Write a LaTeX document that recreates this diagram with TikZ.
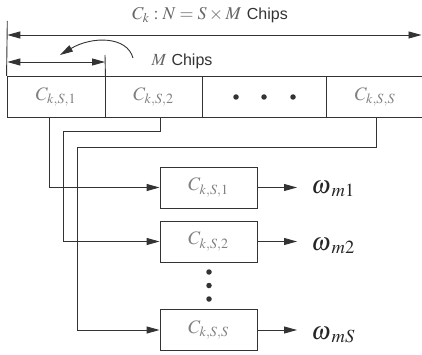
\documentclass[tikz,border=0pt]{standalone}
\usepackage{mathptmx}
\usepackage{fontspec}
\setsansfont{Liberation Sans}
\usetikzlibrary{arrows.meta}
\begin{document}
\begin{tikzpicture}[x=1pt,y=-1pt,
  line width=0.9pt,
  ln/.style={draw=black!80},
  arr/.style={ln,-{Triangle[length=13pt,width=7pt]}},
  darr/.style={ln,{Triangle[length=13pt,width=7pt]}-{Triangle[length=13pt,width=7pt]}},
  cell/.style={ln, minimum height=41.5pt, inner sep=0pt, text=black!50, font=\fontsize{19}{22}\selectfont},
  blk/.style={ln, minimum width=97pt, minimum height=41pt, inner sep=0pt, text=black!50, font=\fontsize{19}{22}\selectfont},
  wlab/.style={anchor=west, inner xsep=14pt, inner ysep=0pt, text=black!85, font=\fontsize{25}{28}\selectfont},
  dot/.style={fill=black!80, draw=none, circle, minimum size=5.5pt, inner sep=0pt}]
\useasboundingbox (0,0) rectangle (422,355);

% top bar cells
\node[cell, minimum width=98pt] (c1) at (56,97) {$C_{k,S,1}$};
\node[cell, minimum width=97pt] (c2) at (153.5,97) {$C_{k,S,2}$};
\node[cell, minimum width=124pt] (c3) at (264,97) {};
\node[cell, minimum width=97pt] (c4) at (375,97) {$C_{k,S,S}$};
\node[dot] (d1) at (236,97) {};
\node[dot] (d2) at (264,97) {};
\node[dot] (d3) at (293,97) {};

% top dimension arrows
\coordinate (tl) at (7.3,21);
\draw[ln] (tl) -- (c1.north west);
\coordinate (ta) at (7.3,35);
\coordinate (tb) at (421.5,35);
\draw[darr] (ta) -- (tb);
\node (title) at (210,15) {\fontsize{18}{21}\selectfont\textcolor{black!60}{$C_k\mkern4mu{:}\mkern4mu N = S\times M$}\ \textcolor{black!80}{\fontsize{16}{19}\selectfont\sffamily Chips}};

\coordinate (mt) at (105,55);
\draw[ln] (mt) -- (c1.north east);
\coordinate (ma) at (7.3,62);
\coordinate (mb) at (105,62);
\draw[darr] (ma) -- (mb);
\node (mchips) at (182,61) {\fontsize{17}{20}\selectfont\textcolor{black!60}{$M$}\ \textcolor{black!80}{\fontsize{16}{19}\selectfont\sffamily Chips}};

\coordinate (cs) at (133,58);
\coordinate (ce) at (60,55);
\draw[arr] (cs) .. controls (127,36) and (92,36) .. (ce);

% lower blocks
\node[blk] (b1) at (208.5,187.5) {$C_{k,S,1}$};
\node[blk] (b2) at (208.5,241.5) {$C_{k,S,2}$};
\node[blk] (b3) at (208.5,330) {$C_{k,S,S}$};
\node[dot] (v1) at (209,272) {};
\node[dot] (v2) at (209,285.5) {};
\node[dot] (v3) at (209,299) {};

% feed lines
\draw[arr] ([xshift=-7pt]c1.south) |- (b1.west);
\coordinate (k2) at (63,131);
\draw[arr] ([xshift=6.5pt]c2.south) |- (k2) |- (b2.west);
\coordinate (k3) at (77,147);
\draw[arr] ([xshift=1pt]c4.south) |- (k3) |- (b3.west);

% outputs
\node[wlab] (w1) at (297,189) {$\omega_{\mkern3mu m1}$};
\node[wlab] (w2) at (297,246) {$\omega_{\mkern3mu m2}$};
\node[wlab] (w3) at (297,335) {$\omega_{\mkern3mu mS}$};
\draw[arr] (b1.east) -- (b1.east -| w1.west);
\draw[arr] (b2.east) -- (b2.east -| w2.west);
\draw[arr] (b3.east) -- (b3.east -| w3.west);
\end{tikzpicture}
\end{document}
